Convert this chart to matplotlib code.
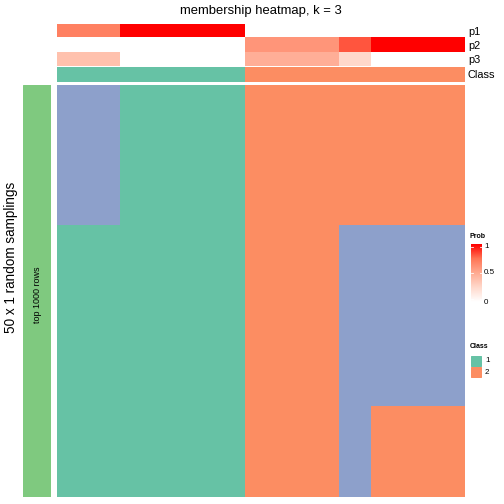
import numpy as np
import matplotlib
matplotlib.use("Agg")
import matplotlib.pyplot as plt
from matplotlib.colors import ListedColormap, LinearSegmentedColormap
from matplotlib.patches import Rectangle

plt.rcParams["font.family"] = ["Liberation Sans", "DejaVu Sans"]

# probability of each class per sample (13 samples)
p1 = [0.70, 0.70, 1, 1, 1, 1, 0, 0, 0, 0, 0, 0, 0]
p2 = [0, 0, 0, 0, 0, 0, 0.60, 0.60, 0.60, 0.82, 1, 1, 1]
p3 = [0.38, 0.38, 0, 0, 0, 0, 0.48, 0.48, 0.48, 0.25, 0, 0, 0]
final_class = [1, 1, 1, 1, 1, 1, 2, 2, 2, 2, 2, 2, 2]

# class per random sampling (50 rows): three blocks of rows
block_rows = [17, 22, 11]
block_classes = [
    [3, 3, 1, 1, 1, 1, 2, 2, 2, 2, 2, 2, 2],
    [1, 1, 1, 1, 1, 1, 2, 2, 2, 3, 3, 3, 3],
    [1, 1, 1, 1, 1, 1, 2, 2, 2, 3, 2, 2, 2],
]
membership = np.vstack([np.tile(c, (n, 1)) for n, c in zip(block_rows, block_classes)])

class_colors = ["#66C2A5", "#FC8D62", "#8DA0CB"]
class_cmap = ListedColormap(class_colors)
prob_cmap = LinearSegmentedColormap.from_list(
    "prob", [(0, "#FFFFFF"), (0.25, "#FFD9CC"), (0.5, "#FFAB92"), (0.75, "#FF7656"), (1, "#FF0000")])

W = H = 504
fig = plt.figure(figsize=(7, 7), dpi=72)

def px_axes(x0, y0, x1, y1):
    return fig.add_axes([x0 / W, 1 - y1 / H, (x1 - x0) / W, (y1 - y0) / H])

# probability rows
ax_p = px_axes(57, 24, 465, 66)
ax_p.imshow(np.array([p1, p2, p3]), cmap=prob_cmap, vmin=0, vmax=1, aspect="auto", interpolation="nearest")
ax_p.set_axis_off()
for i, lab in enumerate(["p1", "p2", "p3"]):
    fig.text(468 / W, 1 - (32 + 14 * i) / H, lab, fontsize=11, va="center", ha="left")

# class row
ax_c = px_axes(57, 67, 465, 82)
ax_c.imshow(np.array([final_class]) - 1, cmap=class_cmap, vmin=0, vmax=2, aspect="auto", interpolation="nearest")
ax_c.set_axis_off()
fig.text(468 / W, 1 - 75 / H, "Class", fontsize=11, va="center", ha="left")

# membership heatmap
ax = px_axes(57, 85, 465, 497)
ax.imshow(membership - 1, cmap=class_cmap, vmin=0, vmax=2, aspect="auto", interpolation="nearest")
ax.set_axis_off()

# left annotation bar
ax_l = px_axes(23, 85, 51, 497)
ax_l.add_patch(Rectangle((0, 0), 1, 1, color="#7FC97F"))
ax_l.set_xlim(0, 1)
ax_l.set_ylim(0, 1)
ax_l.set_axis_off()
fig.text(37 / W, 1 - 295 / H, "top 1000 rows", rotation=90, ha="center", va="center", fontsize=9)
fig.text(11 / W, 1 - 257 / H, "50 x 1 random samplings", rotation=90, ha="center", va="center", fontsize=13.5)

fig.text(261 / W, 1 - 11 / H, "membership heatmap, k = 3", ha="center", va="center", fontsize=13)

# Prob legend
fig.text(470 / W, 1 - 236 / H, "Prob", fontsize=7, fontweight="bold", ha="left", va="center")
ax_cb = px_axes(471, 244, 482, 302)
grad = np.linspace(1, 0, 100).reshape(-1, 1)
ax_cb.imshow(grad, cmap=prob_cmap, vmin=0, vmax=1, aspect="auto", extent=(0, 1, 0, 1))
for v in [0.05, 0.5, 0.95]:
    ax_cb.plot([0, 0.2], [v, v], color="white", lw=0.8)
    ax_cb.plot([0.8, 1], [v, v], color="white", lw=0.8)
ax_cb.set_xlim(0, 1)
ax_cb.set_ylim(0, 1)
ax_cb.set_axis_off()
for v, lab in [(0.95, "1"), (0.5, "0.5"), (0.0, "0")]:
    fig.text(484 / W, 1 - (302 - v * 58) / H, lab, fontsize=8, ha="left", va="center")

# Class legend
fig.text(470 / W, 1 - 347 / H, "Class", fontsize=7, fontweight="bold", ha="left", va="center")
for i, lab in enumerate(["1", "2"]):
    fig.patches.append(Rectangle((471 / W, 1 - (366 + 11 * i) / H), 10 / W, 10 / H,
                                 transform=fig.transFigure, color=class_colors[i], figure=fig))
    fig.text(485 / W, 1 - (361 + 11 * i) / H, lab, fontsize=8, ha="left", va="center")

fig.savefig("out.png", dpi=72)
